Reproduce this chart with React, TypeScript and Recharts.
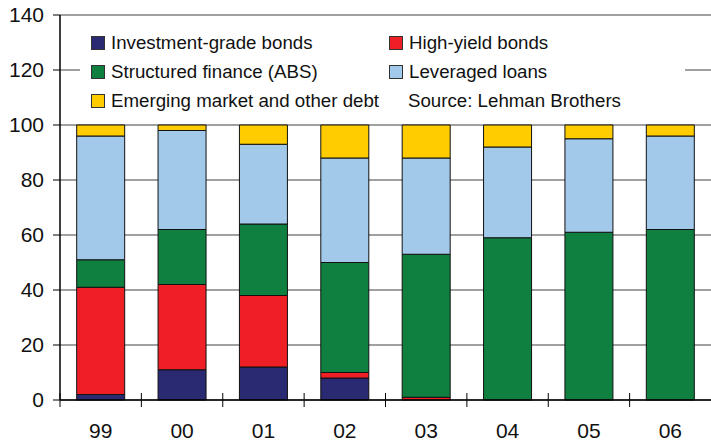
import { Bar, BarChart, CartesianGrid, Legend, XAxis, YAxis } from "recharts"

const years = ["99", "00", "01", "02", "03", "04", "05", "06"]
const investmentGrade = [2, 11, 12, 8, 0, 0, 0, 0]
const highYield = [39, 31, 26, 2, 1, 0, 0, 0]
const structuredFinance = [10, 20, 26, 40, 52, 59, 61, 62]
const leveragedLoans = [45, 36, 29, 38, 35, 33, 34, 34]
const emergingMarket = [4, 2, 7, 12, 12, 8, 5, 4]
const yTicks = [0, 20, 40, 60, 80, 100, 120, 140]

const series = [
  { key: "ig", name: "Investment-grade bonds", color: "#2a2a72" },
  { key: "hy", name: "High-yield bonds", color: "#ee2026" },
  { key: "sf", name: "Structured finance (ABS)", color: "#108040" },
  { key: "ll", name: "Leveraged loans", color: "#a2c9ea" },
  { key: "em", name: "Emerging market and other debt", color: "#ffcc00" },
]

const data = years.map((year, i) => ({
  year,
  ig: investmentGrade[i],
  hy: highYield[i],
  sf: structuredFinance[i],
  ll: leveragedLoans[i],
  em: emergingMarket[i],
}))

const font = "'Liberation Sans', Arial, sans-serif"

function YearTick(props: any) {
  const { x, y, payload } = props
  const half = payload.offset || 40.7
  return (
    <g>
      <line x1={x - half} x2={x - half} y1={y - 7} y2={y + 7} stroke="#000" />
      <text x={x} y={y + 38} textAnchor="middle" fontSize={21} fill="#111" fontFamily={font}>
        {payload.value}
      </text>
    </g>
  )
}

function LegendBox() {
  const cells: any[] = [...series, { key: "src", name: "Source: Lehman Brothers" }]
  return (
    <div
      style={{
        display: "grid",
        gridTemplateColumns: "298px 290px",
        gridAutoRows: "29px",
        paddingLeft: 11,
        paddingTop: 12,
        fontFamily: font,
        fontSize: 18.7,
        color: "#111",
      }}
    >
      {cells.map((c) => (
        <div key={c.key} style={{ display: "flex", alignItems: "center", whiteSpace: "nowrap" }}>
          {c.color ? (
            <span
              style={{
                display: "inline-block",
                width: 12,
                height: 12,
                background: c.color,
                border: "1px solid #333",
                marginRight: 6,
              }}
            />
          ) : (
            <span style={{ display: "inline-block", width: 19 }} />
          )}
          {c.name}
        </div>
      ))}
    </div>
  )
}

export default function App() {
  return (
    <div style={{ position: "absolute", left: 0, top: 0, background: "#fff" }}>
      <BarChart
        width={711}
        height={446}
        data={data}
        margin={{ top: 15, right: 0, bottom: 0, left: 0 }}
        barCategoryGap="20.5%"
      >
        <CartesianGrid vertical={false} stroke="#808080" strokeWidth={1.5} />
        <XAxis
          dataKey="year"
          axisLine={{ stroke: "#000", strokeWidth: 1.5 }}
          tickLine={false}
          tickSize={0}
          tickMargin={0}
          height={46}
          interval={0}
          tick={<YearTick />}
        />
        <YAxis
          domain={[0, 140]}
          ticks={yTicks}
          width={60}
          tickSize={7}
          tickMargin={9}
          axisLine={{ stroke: "#000", strokeWidth: 1.5 }}
          tickLine={{ stroke: "#000" }}
          tick={{ fontSize: 21, fill: "#111", fontFamily: font }}
        />
        <Legend
          layout="horizontal"
          verticalAlign="middle"
          align="center"
          content={() => <LegendBox />}
          wrapperStyle={{ position: "absolute", left: 80, top: 16, width: 605, height: 108, background: "#fff" }}
        />
        {series.map((s) => (
          <Bar
            key={s.key}
            dataKey={s.key}
            name={s.name}
            stackId="a"
            fill={s.color}
            stroke="#111"
            strokeWidth={1}
            isAnimationActive={false}
          />
        ))}
      </BarChart>
    </div>
  )
}
